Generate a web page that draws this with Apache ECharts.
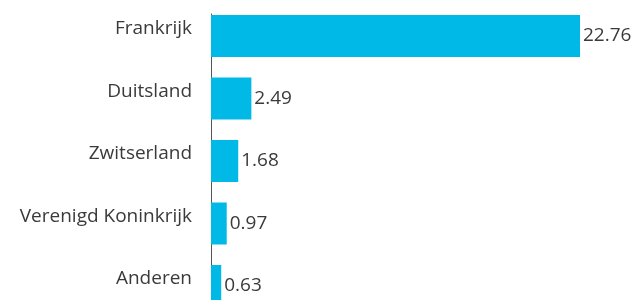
<!DOCTYPE html>
<html>
<head>
<meta charset="utf-8">
<script src="https://cdn.jsdelivr.net/npm/echarts@6/dist/echarts.min.js"></script>
<style>
  html, body { margin: 0; padding: 0; background: #fff; }
  #chart { width: 635px; height: 300px; }
</style>
</head>
<body>
<div id="chart"></div>
<script>
// landen en waarden
const landen = ['Frankrijk', 'Duitsland', 'Zwitserland', 'Verenigd Koninkrijk', 'Anderen'];
const waarden = [22.76, 2.49, 1.68, 0.97, 0.63];

const myChart = echarts.init(document.getElementById('chart'));

const option = {
  animation: false,
  textStyle: { fontFamily: 'Open Sans' },
  grid: [
    // bars
    { left: 211, right: 55, top: 4.75, height: 312.5, outerBoundsMode: 'none' },
    // alleen de as-lijn
    { left: 211, right: 55, top: 14, bottom: 0, outerBoundsMode: 'none' }
  ],
  xAxis: [
    { gridIndex: 0, type: 'value', min: 0, max: 'dataMax', show: false },
    { gridIndex: 1, type: 'value', show: false }
  ],
  yAxis: [
    {
      gridIndex: 0,
      type: 'category',
      data: landen,
      inverse: true,
      axisLine: { show: false },
      axisTick: { show: false },
      axisLabel: {
        color: '#3a3a3a',
        fontSize: 19,
        margin: 19,
        lineHeight: 14,
        verticalAlign: 'bottom'
      }
    },
    {
      gridIndex: 1,
      type: 'value',
      axisLine: { show: true, lineStyle: { color: '#555', width: 1 } },
      axisTick: { show: false },
      axisLabel: { show: false },
      splitLine: { show: false }
    }
  ],
  series: [
    {
      type: 'bar',
      xAxisIndex: 0,
      yAxisIndex: 0,
      data: waarden,
      barWidth: 42,
      itemStyle: { color: '#00B9E6' },
      label: {
        show: true,
        position: 'right',
        distance: 3,
        color: '#3a3a3a',
        fontSize: 19,
        formatter: p => p.value.toFixed(2)
      }
    }
  ]
};

myChart.setOption(option);
</script>
</body>
</html>
